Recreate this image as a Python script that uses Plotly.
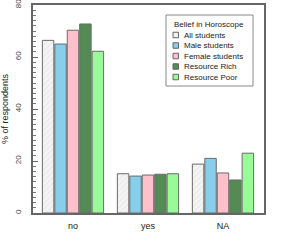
import plotly.graph_objects as go

categories = ["no", "yes", "NA"]
series_names = ["All students", "Male students", "Female students", "Resource Rich", "Resource Poor"]
all_students = [66.4, 15.1, 18.8]
male_students = [65.0, 14.2, 21.0]
female_students = [70.3, 14.6, 15.4]
resource_rich = [72.7, 14.9, 12.7]
resource_poor = [62.2, 15.1, 23.0]
y_ticks = [0, 20, 40, 60, 80]
legend_title = "Belief in Horoscope"

values = [all_students, male_students, female_students, resource_rich, resource_poor]
colors = ["#f2f2f2", "#87CEEB", "#FFC0CB", "#548B54", "#98FB98"]

W, H = 281, 243
L, R, T, B = 33, 17, 5, 30
PW, PH = W - L - R, H - T - B

def px(x):
    return (x - L) / PW

def py(y):
    return (H - B - y) / PH

fig = go.Figure()
for i, (name, vals, col) in enumerate(zip(series_names, values, colors)):
    marker = dict(color=col, line=dict(color="#6a6a6a", width=1))
    if i == 0:
        marker["pattern"] = dict(shape="/", fgcolor="#c8c8c8", bgcolor="#f4f4f4", size=4, solidity=0.2)
    fig.add_trace(go.Bar(x=categories, y=vals, name=name, marker=marker, showlegend=False))

font = "Liberation Sans, Arial, sans-serif"

# custom compact legend (R-style)
shapes = [dict(type="rect", xref="paper", yref="paper", x0=px(166), x1=px(253), y0=py(86), y1=py(15),
               line=dict(color="#888", width=1), fillcolor="white", layer="above")]
annotations = [dict(text=legend_title, xref="paper", yref="paper", x=px(171.5), y=py(24.5),
                    xanchor="left", yanchor="middle", showarrow=False, font=dict(size=8, color="#222"))]
for i, (name, col) in enumerate(zip(series_names, colors)):
    yc = 35 + 10.5 * i
    shapes.append(dict(type="rect", xref="paper", yref="paper", x0=px(173), x1=px(178.5),
                       y0=py(yc + 2.75), y1=py(yc - 2.75), line=dict(color="#666", width=1),
                       fillcolor=col, layer="above"))
    annotations.append(dict(text=name, xref="paper", yref="paper", x=px(181.5), y=py(yc),
                            xanchor="left", yanchor="middle", showarrow=False,
                            font=dict(size=8, color="#222")))

fig.update_layout(
    width=W, height=H,
    margin=dict(l=L, r=R, t=T, b=B),
    paper_bgcolor="white", plot_bgcolor="white",
    barmode="group", bargap=0.17, bargroupgap=0.08,
    font=dict(family=font, size=9, color="#222"),
    shapes=shapes, annotations=annotations,
    xaxis=dict(
        range=[-0.533, 2.547], showline=True, linecolor="#666", linewidth=1.5,
        mirror=True, ticks="", showgrid=False, tickfont=dict(size=9), automargin=False,
        ticklabelstandoff=3,
    ),
    yaxis=dict(
        range=[0, 80], tickvals=y_ticks, ticktext=[str(t) for t in y_ticks],
        tickangle=-90, showline=True, linecolor="#666", linewidth=1.5, mirror=True,
        ticks="inside", ticklen=5, tickcolor="#666", showgrid=False, zeroline=False,
        tickfont=dict(size=8, color="#444"), automargin=False, ticklabelstandoff=7,
        ticklabeloverflow="allow",
        minor=dict(dtick=2, ticks="inside", ticklen=3, tickcolor="#777", showgrid=False),
        title=dict(text="% of respondents", font=dict(size=9), standoff=4),
    ),
)
fig.write_html("out.html", config={"displayModeBar": False},
               post_script="document.body.style.margin='0';document.body.style.padding='0';")
